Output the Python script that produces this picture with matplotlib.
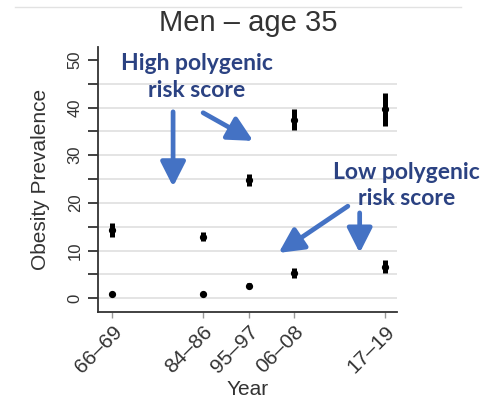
import numpy as np
import matplotlib as mpl
mpl.use('Agg')
from matplotlib import pyplot as plt
from matplotlib.lines import Line2D

# data
periods = ['66\u201369', '84\u201386', '95\u201397', '06\u201308', '17\u201319']
xpos = [0, 2, 3, 4, 6]
high_mean = [14.3, 12.9, 24.8, 37.4, 39.6]
high_err = [1.5, 0.9, 1.3, 2.2, 3.5]
low_mean = [0.9, 0.9, 2.6, 5.3, 6.6]
low_err = [0.3, 0.3, 0.5, 1.0, 1.4]
grid_vals = np.arange(0, 50, 5)

plt.rcParams['font.family'] = ['Liberation Sans', 'DejaVu Sans']

fig = plt.figure(figsize=(4.88, 4.04), dpi=100)
ax = fig.add_axes([0.2008, 0.2277, 0.6127, 0.656])

txt_col = '#333333'
ann_col = '#2b4282'
arr_col = '#4472c4'

for g in grid_vals:
    ax.axhline(g, color='#e4e4e4', lw=1.4, zorder=0)

for mean, err in [(high_mean, high_err), (low_mean, low_err)]:
    ax.errorbar(xpos, mean, yerr=err, fmt='o', ms=4.2, color='black',
                ecolor='black', elinewidth=3.6, capsize=0, zorder=3)

ax.set_xlim(-0.31, 6.26)
ax.set_ylim(-2.9, 52.7)

for s in ['top', 'right']:
    ax.spines[s].set_visible(False)
for s in ['left', 'bottom']:
    ax.spines[s].set_color(txt_col)
    ax.spines[s].set_linewidth(1.3)

ax.set_yticks(np.arange(0, 51, 10))
ax.set_yticks(np.arange(5, 50, 10), minor=True)
ax.set_yticklabels([str(v) for v in range(0, 51, 10)], rotation=90, va='center',
                   fontsize=12, color=txt_col)
ax.tick_params(axis='y', which='both', length=7, width=1.3, color=txt_col, pad=4)
ax.set_xticks(xpos)
ax.set_xticklabels(periods, rotation=45, ha='right', rotation_mode='anchor',
                   fontsize=15, color=txt_col)
ax.tick_params(axis='x', length=4, width=1, color='#999999', pad=3)

ax.set_ylabel('Obesity Prevalence', fontsize=15, color=txt_col)
ax.yaxis.set_label_coords(-0.16, 0.5)
ax.set_xlabel('Year', fontsize=15, color=txt_col)
ax.xaxis.set_label_coords(0.5, -0.255)

fig.text(0.508, 0.942, 'Men \u2013 age 35', ha='center', va='center',
         fontsize=21, color=txt_col)
fig.add_artist(Line2D([0.03, 0.945], [0.983, 0.983], color='#e2e2e2', lw=1))

# annotations
ann_kw = dict(ha='center', va='center', fontsize=16.5, fontweight='bold',
              color=ann_col, family=['Lato', 'DejaVu Sans'], linespacing=1.3)
ax.text(1.86, 46.4, 'High polygenic\nrisk score', **ann_kw)
ax.text(6.47, 23.7, 'Low polygenic\nrisk score', **ann_kw)

arrows = [((1.34, 39.1), (1.34, 23.4)),
          ((2.0, 38.9), (3.1, 33.0)),
          ((5.18, 19.3), (3.66, 9.5)),
          ((5.44, 17.9), (5.44, 9.5))]
for start, end in arrows:
    ax.annotate('', xy=end, xytext=start,
                arrowprops=dict(arrowstyle='-|>,head_width=0.38,head_length=0.75',
                                lw=3.4, color=arr_col, mutation_scale=20,
                                shrinkA=0, shrinkB=0),
                annotation_clip=False)

fig.savefig('out.png', dpi=100)
